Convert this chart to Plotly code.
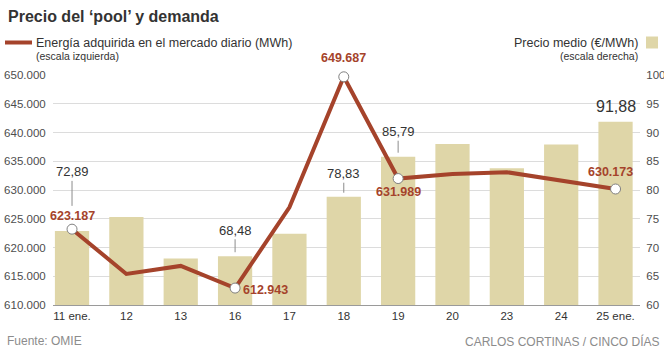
import plotly.graph_objects as go

# ---------------- data ----------------
categories = ["11 ene.", "12", "13", "16", "17", "18", "19", "20", "23", "24", "25 ene."]
precio = [72.89, 75.3, 68.1, 68.48, 72.4, 78.83, 85.79, 88.0, 83.8, 87.9, 91.88]          # €/MWh (right)
energia = [623187, 615400, 616800, 612943, 627000, 649687, 631989, 632800, 633100, 631600, 630173]  # MWh (left)
marked = ["11 ene.", "16", "18", "19", "25 ene."]           # points with circle + label
precio_labeled = ["11 ene.", "16", "18", "19"]                # price labels with connector
precio_big = ["25 ene."]
left_ticks = [610000, 650000, 5000]
right_ticks = [60, 100, 5]

# ---------------- style ----------------
W_FIG, H_FIG = 664, 353
L, R, T, B = 53, 24, 75, 48
PW, PH = W_FIG - L - R, H_FIG - T - B
RED = "#a5432b"
BAR = "#dfd6a8"
GRID = "#dcdcdc"
TXT = "#333333"
TICK = "#4d4d4d"
SANS = "Liberation Sans, Arial, Helvetica, sans-serif"


def px(xp):
    return (xp - L) / PW


def py(yp):
    return (T + PH - yp) / PH


def fmt_e(v):
    return f"{v:,}".replace(",", ".")


def fmt_p(v):
    return f"{v:.2f}".replace(".", ",")


xs = list(range(len(categories)))
idx = {c: i for i, c in enumerate(categories)}

fig = go.Figure()
fig.add_trace(go.Bar(x=xs, y=precio, marker=dict(color=BAR, line=dict(width=0)),
                     width=0.63, yaxis="y", hoverinfo="skip"))
fig.add_trace(go.Scatter(x=xs, y=energia, yaxis="y2", mode="lines", cliponaxis=False,
                         line=dict(color=RED, width=4), hoverinfo="skip"))
fig.add_trace(go.Scatter(x=[idx[c] for c in marked], y=[energia[idx[c]] for c in marked],
                         yaxis="y2", mode="markers", cliponaxis=False,
                         marker=dict(size=10, color="white", line=dict(color="#808080", width=1)),
                         hoverinfo="skip"))

ann = []
# price labels with connectors
conn = {"11 ene.": (-59, 25), "16": (-26, 4), "18": (-23, 4), "19": (-25, 4)}
for c in precio_labeled:
    i = idx[c]
    ay, so = conn[c]
    ann.append(dict(x=i, y=precio[i], xref="x", yref="y", text=fmt_p(precio[i]),
                    showarrow=True, arrowhead=0, arrowwidth=1, arrowcolor="#8c8c8c",
                    ax=0, ay=ay, standoff=so,
                    font=dict(family=SANS, size=13, color=TXT)))
for c in precio_big:
    i = idx[c]
    ann.append(dict(x=i, y=precio[i], xref="x", yref="y", text=fmt_p(precio[i]),
                    showarrow=False, yanchor="middle", yshift=15,
                    font=dict(family=SANS, size=16, color=TXT)))

# energy labels
eshift = {"11 ene.": (0, 13, "center"), "16": (6, -2, "left"), "18": (0, 19, "center"),
          "19": (0, -13, "center"), "25 ene.": (-5, 17, "center")}
for c in marked:
    i = idx[c]
    xsft, ysft, xa = eshift[c]
    ann.append(dict(x=i, y=energia[i], xref="x", yref="y2", text="<b>" + fmt_e(energia[i]) + "</b>",
                    showarrow=False, xanchor=xa, yanchor="middle", xshift=xsft, yshift=ysft,
                    font=dict(family=SANS, size=12.5, color=RED)))

# title, legend, footer
ann += [
    dict(x=px(6), y=py(17), xref="paper", yref="paper", text="<b>Precio del ‘pool’ y demanda</b>",
         showarrow=False, xanchor="left", yanchor="middle",
         font=dict(family=SANS, size=16, color=TXT)),
    dict(x=px(34), y=py(42.5), xref="paper", yref="paper",
         text="Energía adquirida en el mercado diario (MWh)", showarrow=False,
         xanchor="left", yanchor="middle", font=dict(family=SANS, size=12.5, color=TXT)),
    dict(x=px(34), y=py(56), xref="paper", yref="paper", text="(escala izquierda)",
         showarrow=False, xanchor="left", yanchor="middle",
         font=dict(family=SANS, size=10.5, color=TXT)),
    dict(x=px(640), y=py(42.5), xref="paper", yref="paper", text="Precio medio (€/MWh)",
         showarrow=False, xanchor="right", yanchor="middle",
         font=dict(family=SANS, size=12.5, color=TXT)),
    dict(x=px(640), y=py(56), xref="paper", yref="paper", text="(escala derecha)",
         showarrow=False, xanchor="right", yanchor="middle",
         font=dict(family=SANS, size=10.5, color=TXT)),
    dict(x=px(5), y=py(341), xref="paper", yref="paper", text="Fuente: OMIE",
         showarrow=False, xanchor="left", yanchor="middle",
         font=dict(family=SANS, size=12, color="#8c8c8c")),
    dict(x=px(661), y=py(341), xref="paper", yref="paper", text="CARLOS CORTINAS / CINCO DÍAS",
         showarrow=False, xanchor="right", yanchor="middle",
         font=dict(family=SANS, size=12, color="#8c8c8c")),
]

shapes = [
    dict(type="line", xref="paper", yref="paper", x0=px(5), x1=px(32), y0=py(42.5), y1=py(42.5),
         line=dict(color=RED, width=4)),
    dict(type="rect", xref="paper", yref="paper", x0=px(646), x1=px(658), y0=py(36.5), y1=py(48.5),
         fillcolor=BAR, line=dict(width=0)),
]

fig.update_layout(
    width=W_FIG, height=H_FIG,
    margin=dict(l=L, r=R, t=T, b=B, pad=0, autoexpand=False),
    paper_bgcolor="white", plot_bgcolor="white",
    showlegend=False, separators=",.",
    bargap=0.37,
    xaxis=dict(range=[-0.35, 10.45], tickmode="array", tickvals=xs, ticktext=categories,
               showgrid=False, zeroline=False, showline=True, linecolor="#9a9a9a", linewidth=1,
               ticks="", automargin=False,
               tickfont=dict(family=SANS, size=11.5, color=TXT), fixedrange=True),
    yaxis=dict(side="right", range=right_ticks[:2], tick0=right_ticks[0], dtick=right_ticks[2],
               showgrid=True, gridcolor=GRID, gridwidth=1, zeroline=False, showline=False,
               ticks="outside", ticklen=3, tickcolor="rgba(0,0,0,0)", automargin=False,
               tickfont=dict(family=SANS, size=11.5, color=TICK)),
    yaxis2=dict(overlaying="y", side="left", range=left_ticks[:2], tick0=left_ticks[0],
                dtick=left_ticks[2], tickformat=",.0f", showgrid=False, zeroline=False,
                showline=False, ticks="outside", ticklen=4, tickcolor="rgba(0,0,0,0)",
                automargin=False,
                tickfont=dict(family=SANS, size=11.5, color=TICK)),
    annotations=ann, shapes=shapes,
)

fig.write_html("out.html")
